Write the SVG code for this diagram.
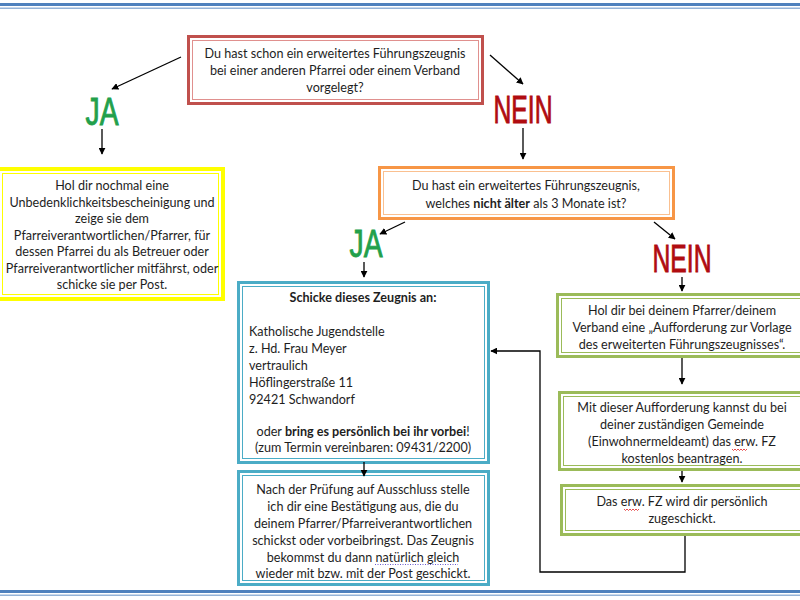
<svg xmlns="http://www.w3.org/2000/svg" width="800" height="600" viewBox="0 0 800 600">
<defs>
<marker id="ah" viewBox="0 0 10 10" refX="9" refY="5" markerWidth="7" markerHeight="7" markerUnits="userSpaceOnUse" orient="auto">
<path d="M0,0 L10,5 L0,10 z" fill="#000"/>
</marker>
<style>
.t{font-family:Lato,"Liberation Sans",sans-serif;font-size:12.6px;fill:#1e1e1e;}
.c{text-anchor:middle;}
.b{font-weight:bold;}
.big{font-family:"Liberation Sans Narrow","Liberation Sans",sans-serif;font-size:38px;text-anchor:middle;stroke-width:0.9;}
.ja{fill:#22a04b;stroke:#22a04b;}
.nein{fill:#b00c10;stroke:#b00c10;}
.ln{fill:none;stroke:#000;stroke-width:1.3;marker-end:url(#ah);}
.box{fill:#fff;}
.wavy{fill:none;stroke:#e02020;stroke-width:0.8;}
.dot{fill:none;stroke:#6a5acd;stroke-width:1;stroke-dasharray:1,1.5;}
</style>
</defs>
<rect x="0" y="0" width="800" height="600" fill="#fff"/>
<!-- page borders -->
<rect x="0" y="3" width="800" height="3" fill="#4f81bd"/>
<rect x="0" y="7.5" width="800" height="1.5" fill="#95b3d7"/>
<rect x="0" y="590" width="800" height="3" fill="#4f81bd"/>
<rect x="0" y="594.5" width="800" height="1.5" fill="#95b3d7"/>

<g id="q1">
<rect class="box" x="188.5" y="36.5" width="294" height="67" stroke="#c0504d" stroke-width="3"/>
<rect x="192.5" y="40.5" width="286" height="59" fill="none" stroke="#e0908e" stroke-width="1"/>
<text class="t c" x="335" y="58">Du hast schon ein erweitertes Führungszeugnis</text>
<text class="t c" x="335" y="75">bei einer anderen Pfarrei oder einem Verband</text>
<text class="t c" x="335" y="92">vorgelegt?</text>
</g>

<g id="ja1"><text class="big ja" x="102" y="125" textLength="33" lengthAdjust="spacingAndGlyphs">JA</text></g>
<g id="nein1"><text class="big nein" x="523" y="123" textLength="59" lengthAdjust="spacingAndGlyphs">NEIN</text></g>

<g id="a1">
<rect class="box" x="-2" y="169" width="225" height="130" stroke="#ffff00" stroke-width="4"/>
<rect x="2.5" y="173.5" width="216" height="121" fill="none" stroke="#ffff00" stroke-width="1"/>
<text class="t c" x="112" y="190">Hol dir nochmal eine</text>
<text class="t c" x="112" y="206.5">Unbedenklichkeitsbescheinigung und</text>
<text class="t c" x="112" y="223">zeige sie dem</text>
<text class="t c" x="112" y="239.5">Pfarreiverantwortlichen/Pfarrer, für</text>
<text class="t c" x="112" y="256">dessen Pfarrei du als Betreuer oder</text>
<text class="t c" x="112" y="272.5">Pfarreiverantwortlicher mitfährst, oder</text>
<text class="t c" x="112" y="289">schicke sie per Post.</text>
</g>

<g id="q2">
<rect class="box" x="379.5" y="167.5" width="294" height="51" stroke="#f79646" stroke-width="3"/>
<rect x="383.5" y="171.5" width="286" height="43" fill="none" stroke="#fac090" stroke-width="1"/>
<text class="t c" x="526" y="190">Du hast ein erweitertes Führungszeugnis,</text>
<text class="t c" x="526" y="207.5">welches <tspan class="b">nicht älter</tspan> als 3 Monate ist?</text>
</g>

<g id="ja2"><text class="big ja" x="366" y="257" textLength="33" lengthAdjust="spacingAndGlyphs">JA</text></g>
<g id="nein2"><text class="big nein" x="682" y="272" textLength="59" lengthAdjust="spacingAndGlyphs">NEIN</text></g>

<g id="send">
<rect class="box" x="238.5" y="282.5" width="250" height="180" stroke="#4bacc6" stroke-width="3"/>
<rect x="242.5" y="286.5" width="242" height="172" fill="none" stroke="#4bacc6" stroke-width="1"/>
<text class="t c b" x="363" y="302">Schicke dieses Zeugnis an:</text>
<text class="t" x="249" y="336">Katholische Jugendstelle</text>
<text class="t" x="249" y="353">z. Hd. Frau Meyer</text>
<text class="t" x="249" y="370">vertraulich</text>
<text class="t" x="249" y="387">Höflingerstraße 11</text>
<text class="t" x="249" y="404">92421 Schwandorf</text>
<text class="t c" x="363" y="436">oder <tspan class="b">bring es persönlich bei ihr vorbei</tspan>!</text>
<text class="t c" x="363" y="452">(zum Termin vereinbaren: 09431/2200)</text>
</g>

<g id="confirm">
<rect class="box" x="238.5" y="471.5" width="250" height="113" stroke="#4bacc6" stroke-width="3"/>
<rect x="242.5" y="475.5" width="242" height="105" fill="none" stroke="#4bacc6" stroke-width="1"/>
<text class="t c" x="363" y="494">Nach der Prüfung auf Ausschluss stelle</text>
<text class="t c" x="363" y="511">ich dir eine Bestätigung aus, die du</text>
<text class="t c" x="363" y="528">deinem Pfarrer/Pfarreiverantwortlichen</text>
<text class="t c" x="363" y="545">schickst oder vorbeibringst. Das Zeugnis</text>
<text class="t c" x="363" y="561.5">bekommst du dann natürlich gleich</text>
<path class="dot" d="M375,564.5 H458"/>
<text class="t c" x="363" y="578">wieder mit bzw. mit der Post geschickt.</text>
</g>

<g id="n1">
<rect class="box" x="557.5" y="294.5" width="250" height="62" stroke="#9bbb59" stroke-width="3"/>
<rect x="561.5" y="298.5" width="242" height="54" fill="none" stroke="#9bbb59" stroke-width="1"/>
<text class="t c" x="682" y="315">Hol dir bei deinem Pfarrer/deinem</text>
<text class="t c" x="682" y="332">Verband eine „Aufforderung zur Vorlage</text>
<text class="t c" x="682" y="349">des erweiterten Führungszeugnisses“.</text>
</g>

<g id="n2">
<rect class="box" x="559.5" y="392.5" width="248" height="77" stroke="#9bbb59" stroke-width="3"/>
<rect x="563.5" y="396.5" width="240" height="69" fill="none" stroke="#9bbb59" stroke-width="1"/>
<text class="t c" x="682" y="412">Mit dieser Aufforderung kannst du bei</text>
<text class="t c" x="682" y="429">deiner zuständigen Gemeinde</text>
<text class="t c" x="682" y="446">(Einwohnermeldeamt) das erw. FZ</text>
<path class="wavy" d="M732,449 l1.5,1.5 l1.5,-1.5 l1.5,1.5 l1.5,-1.5 l1.5,1.5 l1.5,-1.5 l1.5,1.5 l1.5,-1.5 l1.5,1.5 l1.5,-1.5"/>
<text class="t c" x="682" y="463">kostenlos beantragen.</text>
</g>

<g id="n3">
<rect class="box" x="561.5" y="485.5" width="246" height="49" stroke="#9bbb59" stroke-width="3"/>
<rect x="565.5" y="489.5" width="238" height="41" fill="none" stroke="#9bbb59" stroke-width="1"/>
<text class="t c" x="682" y="506">Das erw. FZ wird dir persönlich</text>
<path class="wavy" d="M624,509 l1.5,1.5 l1.5,-1.5 l1.5,1.5 l1.5,-1.5 l1.5,1.5 l1.5,-1.5 l1.5,1.5 l1.5,-1.5 l1.5,1.5 l1.5,-1.5"/>
<text class="t c" x="682" y="523">zugeschickt.</text>
</g>

<g id="connectors">
<line class="ln" x1="181" y1="57" x2="112" y2="89"/>
<line class="ln" x1="102" y1="129" x2="102" y2="154"/>
<line class="ln" x1="490" y1="55" x2="523" y2="84"/>
<line class="ln" x1="523" y1="128" x2="523" y2="159"/>
<line class="ln" x1="405" y1="222" x2="380" y2="234"/>
<line class="ln" x1="364" y1="262" x2="364" y2="277"/>
<line class="ln" x1="654" y1="222" x2="675" y2="239"/>
<line class="ln" x1="682" y1="277" x2="682" y2="291"/>
<line class="ln" x1="364" y1="462" x2="364" y2="476"/>
<line class="ln" x1="682" y1="358" x2="682" y2="384"/>
<line class="ln" x1="682" y1="471" x2="682" y2="482"/>
<polyline class="ln" points="685,536 685,572 540,572 540,351 491,351"/>
</g>
</svg>
